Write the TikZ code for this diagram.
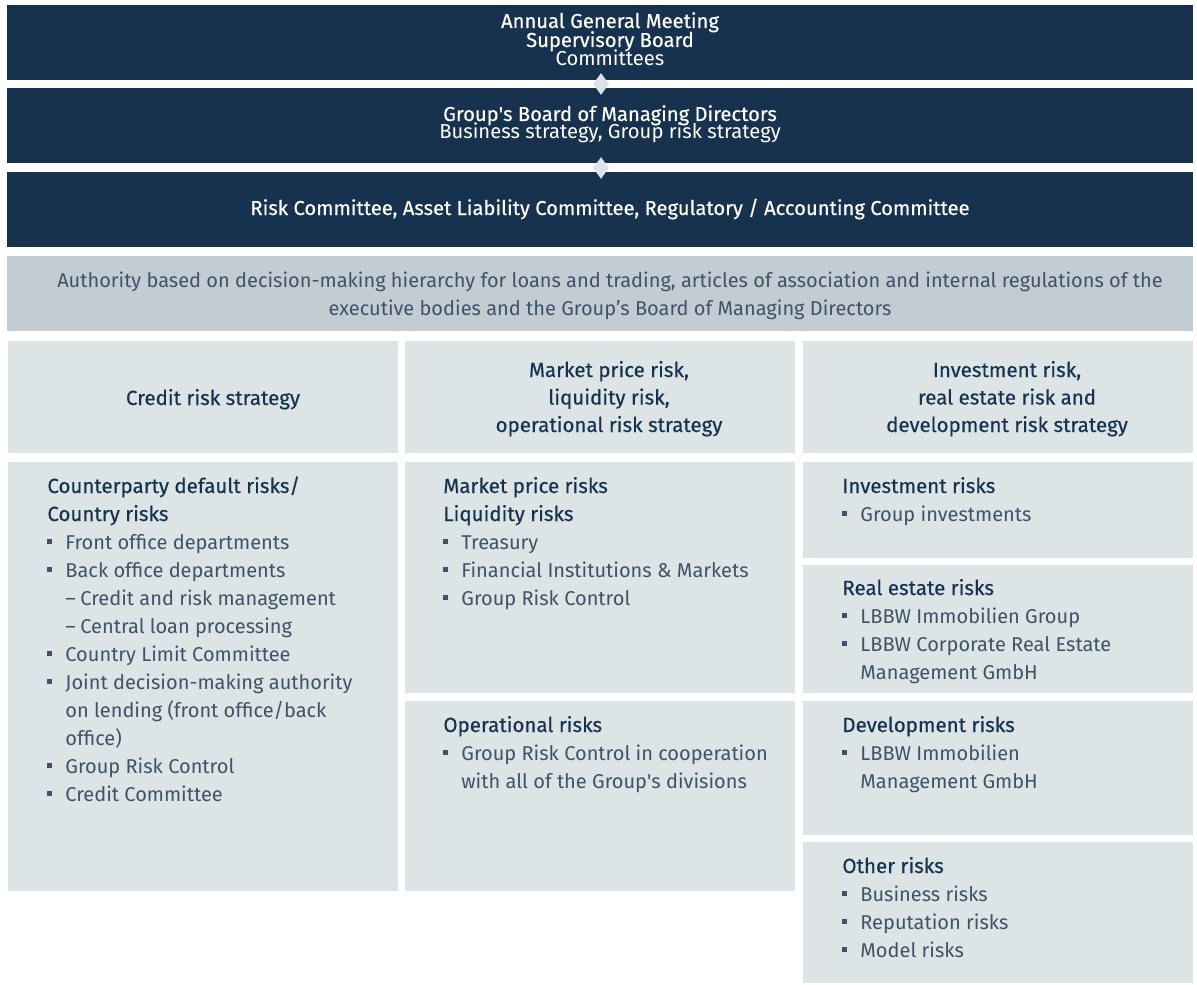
\documentclass[tikz,border=0pt]{standalone}
\usepackage{fontspec}
\setmainfont{Fira Sans}
\newfontfamily\headfont[FakeBold=0.4]{Fira Sans}
\usetikzlibrary{shapes.geometric}

\definecolor{navy}{HTML}{16324F}
\definecolor{bandgrey}{HTML}{C4CCD3}
\definecolor{pale}{HTML}{DCE4E6}
\definecolor{linkgrey}{HTML}{DDE3E6}
\definecolor{ink}{HTML}{16324F}
\definecolor{bodyink}{HTML}{3E5367}

% list markers
\newcommand\bul{\makebox[9pt][l]{\rule[2.5pt]{2.3pt}{2.3pt}}}
\newcommand\subitm{\hspace*{9pt}\makebox[7.5pt][l]{--}}
\newcommand\indt{\hspace*{9pt}}
\newcommand\hd[1]{{\headfont\fontsize{10.25}{14}\selectfont\color{ink}#1}}
% lets lines sit closer than the font height
\newcommand\tightlines{\lineskiplimit-5pt\relax}

\begin{document}
\begin{tikzpicture}[x=0.5pt, y=-0.5pt,
    bar/.style={fill=navy, anchor=north west, inner sep=0pt,
      minimum width=593pt, minimum height=37.5pt},
    band/.style={bar, fill=bandgrey},
    panel/.style={fill=pale, anchor=north west, inner sep=0pt, minimum width=195pt},
    link/.style={diamond, fill=linkgrey, inner sep=0pt,
      minimum width=8pt, minimum height=11pt},
    title/.style={anchor=base, align=center, text=white,
      font=\fontsize{10.1}{9.5}\selectfont\tightlines},
    strategy/.style={anchor=base, align=center, text=ink,
      font=\headfont\fontsize{10.25}{13.75}\selectfont},
    list/.style={anchor=base west, align=left, text=bodyink, inner sep=0pt,
      font=\fontsize{10}{14}\selectfont},
  ]

  \useasboundingbox (0,0) rectangle (1197,984);

  % governing bodies
  \node[bar]  (agm)       at (7,5)   {};
  \node[bar]  (board)     at (7,88)  {};
  \node[bar]  (committee) at (7,172) {};
  \node[band] (authority) at (7,256) {};

  \node[link] (link1) at (601,84)  {};
  \node[link] (link2) at (601,168) {};

  % multi-line texts sit on the baseline of their last line
  \node[title] (agmtxt) at (610,66)
    {{\headfont Annual General Meeting}\\{\headfont Supervisory Board}\\Committees};
  \node[title, font=\fontsize{10.1}{9}\selectfont\tightlines] (boardtxt) at (610,139)
    {{\headfont Group\textquotesingle s Board of Managing Directors}\\Business strategy, Group risk strategy};
  \node[title] (committeetxt) at (610,215)
    {\headfont Risk Committee, Asset Liability Committee, Regulatory / Accounting Committee};
  \node[title, text=bodyink, font=\fontsize{10}{14}\selectfont] (authoritytxt) at (610,315)
    {Authority based on decision-making hierarchy for loans and trading, articles of association and internal regulations of the\\
     executive bodies and the Group’s Board of Managing Directors};

  % strategies
  \node[panel, minimum height=56pt] (creditstr) at (8,341)   {};
  \node[panel, minimum height=56pt] (marketstr) at (405,341) {};
  \node[panel, minimum height=56pt] (investstr) at (803,341) {};

  \node[strategy] (creditstrtxt) at (213,405) {Credit risk strategy};
  \node[strategy] (marketstrtxt) at (609,432)
    {Market price risk,\\liquidity risk,\\operational risk strategy};
  \node[strategy] (investstrtxt) at (1007,432)
    {Investment risk,\\real estate risk and\\development risk strategy};

  % risk types and units
  \node[panel, minimum height=214.5pt] (credit)      at (8,462)   {};
  \node[panel, minimum height=115.5pt] (market)      at (405,462) {};
  \node[panel, minimum height=95pt]    (operational) at (405,701) {};
  \node[panel, minimum height=48pt]    (invest)      at (803,462) {};
  \node[panel, minimum height=64pt]    (realestate)  at (803,565) {};
  \node[panel, minimum height=67pt]    (development) at (803,701) {};
  \node[panel, minimum height=70.5pt]  (other)       at (803,842) {};

  \node[list] (credittxt) at (47,801)
    {\hd{Counterparty default risks/}\\\hd{Country risks}\\
     \bul Front office departments\\
     \bul Back office departments\\
     \subitm Credit and risk management\\
     \subitm Central loan processing\\
     \bul Country Limit Committee\\
     \bul Joint decision-making authority\\
     \indt on lending (front office/back\\
     \indt office)\\
     \bul Group Risk Control\\
     \bul Credit Committee};
  \node[list] (markettxt) at (443,605)
    {\hd{Market price risks}\\\hd{Liquidity risks}\\
     \bul Treasury\\
     \bul Financial Institutions \& Markets\\
     \bul Group Risk Control};
  \node[list] (operationaltxt) at (443,788)
    {\hd{Operational risks}\\
     \bul Group Risk Control in cooperation\\
     \indt with all of the Group\textquotesingle s divisions};
  \node[list] (investtxt) at (842,521)
    {\hd{Investment risks}\\
     \bul Group investments};
  \node[list] (realestatetxt) at (842,679)
    {\hd{Real estate risks}\\
     \bul LBBW Immobilien Group\\
     \bul LBBW Corporate Real Estate\\
     \indt Management GmbH};
  \node[list] (developmenttxt) at (842,788)
    {\hd{Development risks}\\
     \bul LBBW Immobilien\\
     \indt Management GmbH};
  \node[list] (othertxt) at (842,957)
    {\hd{Other risks}\\
     \bul Business risks\\
     \bul Reputation risks\\
     \bul Model risks};

\end{tikzpicture}
\end{document}
